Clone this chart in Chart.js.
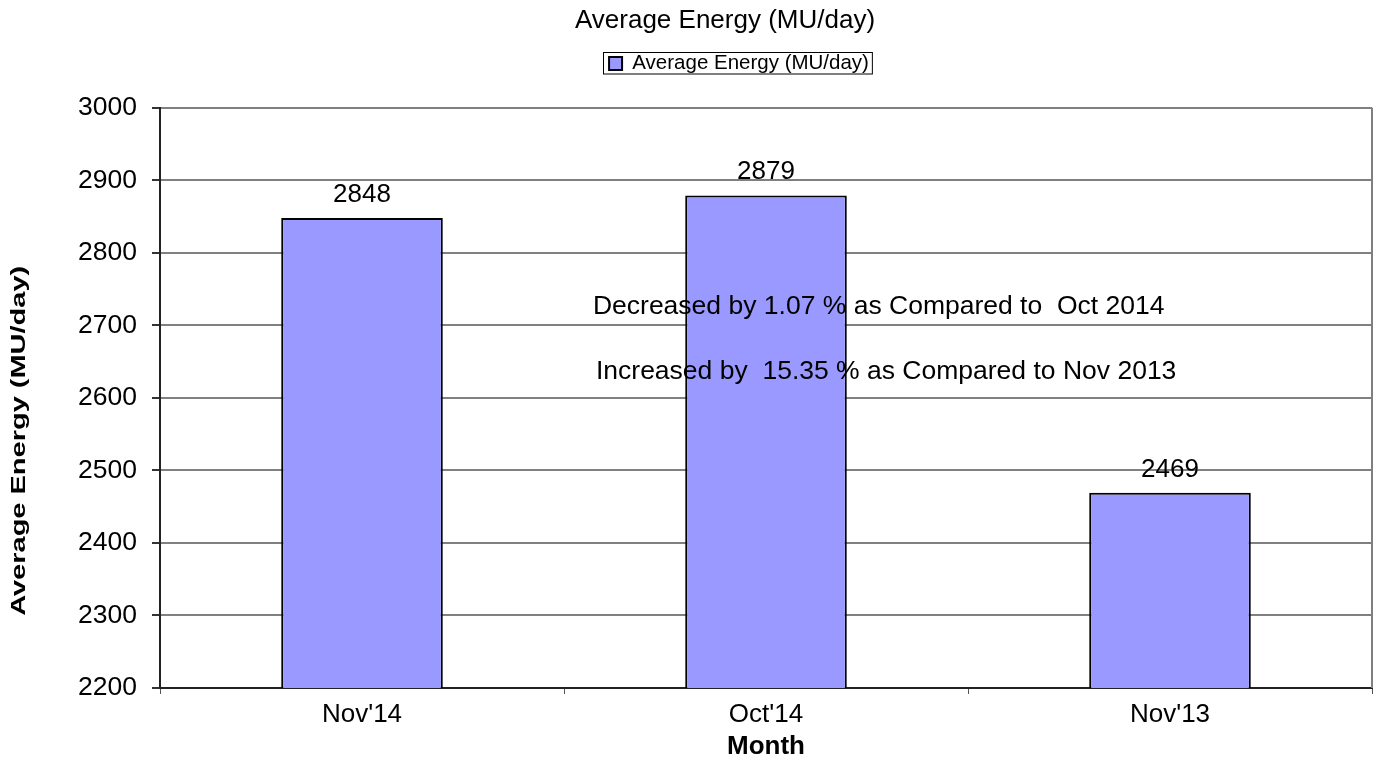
<!DOCTYPE html>
<html>
<head>
  <meta charset="utf-8">
  <script src="https://cdn.jsdelivr.net/npm/chart.js"></script>
  <style>
    body { margin: 0; background: #fff; }
    #wrap { width: 1377px; height: 763px; }
  </style>
</head>
<body>
  <div id="wrap">
    <canvas id="barChart" width="1377" height="763"></canvas>
  </div>
  <script>
    // chart data
    const months = ["Nov'14", "Oct'14", "Nov'13"];
    const avgEnergy = [2848, 2879, 2469];
    const yTicks = [2200, 2300, 2400, 2500, 2600, 2700, 2800, 2900, 3000];
    const notes = [
      'Decreased by 1.07 % as Compared to  Oct 2014',
      'Increased by  15.35 % as Compared to Nov 2013'
    ];
    const yTitle = 'Average Energy (MU/day)';

    const FONT = '"Liberation Sans", Arial, Helvetica, sans-serif';

    // push chart area down below the legend
    const legendGap = {
      id: 'legendGap',
      beforeInit(chart) {
        const fit = chart.legend.fit;
        chart.legend.fit = function () {
          fit.bind(chart.legend)();
          this.height += 24;
        };
      },
      // title and legend sit a bit right of the page centre in the original
      afterLayout(chart) {
        chart.legend.left += 53;
        chart.legend.right += 53;
        chart.titleBlock.left += 39;
        chart.titleBlock.right += 39;
      }
    };

    // value labels, the two notes, the legend box, right border, y title
    const extras = {
      id: 'extras',
      afterDatasetsDraw(chart) {
        const ctx = chart.ctx;
        const area = chart.chartArea;
        ctx.save();
        ctx.fillStyle = '#000';
        ctx.font = '26px ' + FONT;
        ctx.textAlign = 'center';
        ctx.textBaseline = 'alphabetic';
        chart.getDatasetMeta(0).data.forEach((bar, i) => {
          ctx.fillText(avgEnergy[i], bar.x, bar.y - 16);
        });

        ctx.font = '26.5px ' + FONT;
        ctx.textAlign = 'left';
        const w = area.right - area.left;
        ctx.fillText(notes[0], area.left + w * 0.3572, area.top + 206);
        ctx.fillText(notes[1], area.left + w * 0.3597, area.top + 271);

        // right edge of plot area
        ctx.strokeStyle = '#808080';
        ctx.lineWidth = 2;
        ctx.beginPath();
        ctx.moveTo(area.right, area.top);
        ctx.lineTo(area.right, area.bottom);
        ctx.stroke();

        // box round the legend
        const hb = chart.legend.legendHitBoxes[0];
        if (hb) {
          ctx.strokeStyle = '#000';
          ctx.lineWidth = 1;
          ctx.strokeRect(Math.round(hb.left) - 5.5, Math.round(hb.top) - 0.5, hb.width + 9, hb.height + 1);
        }

        // y axis title, drawn stretched like the original
        ctx.translate(19, (area.top + area.bottom) / 2 + 43);
        ctx.rotate(-Math.PI / 2);
        ctx.scale(1.38, 1);
        ctx.font = 'bold 21px ' + FONT;
        ctx.textAlign = 'center';
        ctx.textBaseline = 'middle';
        ctx.fillText(yTitle, 0, 0);
        ctx.restore();
      }
    };

    const ctx = document.getElementById('barChart').getContext('2d');
    new Chart(ctx, {
      type: 'bar',
      data: {
        labels: months,
        datasets: [{
          label: 'Average Energy (MU/day)',
          data: avgEnergy,
          backgroundColor: '#9999ff',
          borderColor: '#000',
          borderWidth: 2,
          borderSkipped: false,
          categoryPercentage: 1,
          barPercentage: 0.4
        }]
      },
      options: {
        responsive: false,
        animation: false,
        layout: { padding: { left: 0, right: 5, top: 0, bottom: 0 } },
        plugins: {
          title: {
            display: true,
            text: 'Average Energy (MU/day)',
            color: '#000',
            font: { family: FONT, size: 26, weight: 'normal' },
            padding: { top: 5, bottom: 7 }
          },
          legend: {
            display: true,
            labels: {
              color: '#000',
              font: { family: FONT, size: 20.5 },
              boxWidth: 13,
              boxHeight: 13,
              padding: 10,
              generateLabels(chart) {
                const ds = chart.data.datasets[0];
                return [{
                  text: ds.label,
                  fillStyle: ds.backgroundColor,
                  strokeStyle: '#000',
                  lineWidth: 2,
                  fontColor: '#000',
                  datasetIndex: 0
                }];
              }
            }
          },
          tooltip: { enabled: false }
        },
        scales: {
          x: {
            offset: true,
            afterFit(scale) {
              scale.height = 75;
            },
            grid: {
              offset: true,
              drawOnChartArea: false,
              drawTicks: true,
              tickLength: 6,
              color: '#555'
            },
            border: { color: '#222', width: 2 },
            ticks: {
              color: '#000',
              font: { family: FONT, size: 26 },
              padding: 5
            },
            title: {
              display: true,
              text: 'Month',
              color: '#000',
              font: { family: FONT, size: 26, weight: 'bold' },
              padding: { top: 0, bottom: 1 }
            }
          },
          y: {
            min: 2200,
            max: 3000,
            afterBuildTicks(scale) {
              scale.ticks = yTicks.map(v => ({ value: v }));
            },
            afterFit(scale) {
              scale.width = 160;
            },
            grid: {
              color: '#808080',
              lineWidth: 2,
              drawTicks: true,
              tickLength: 8,
              tickColor: '#333'
            },
            border: { color: '#222', width: 2 },
            ticks: {
              color: '#000',
              font: { family: FONT, size: 26.5 },
              padding: 15,
              callback: v => String(v)
            },
            title: { display: false }
          }
        }
      },
      plugins: [legendGap, extras]
    });
  </script>
</body>
</html>
